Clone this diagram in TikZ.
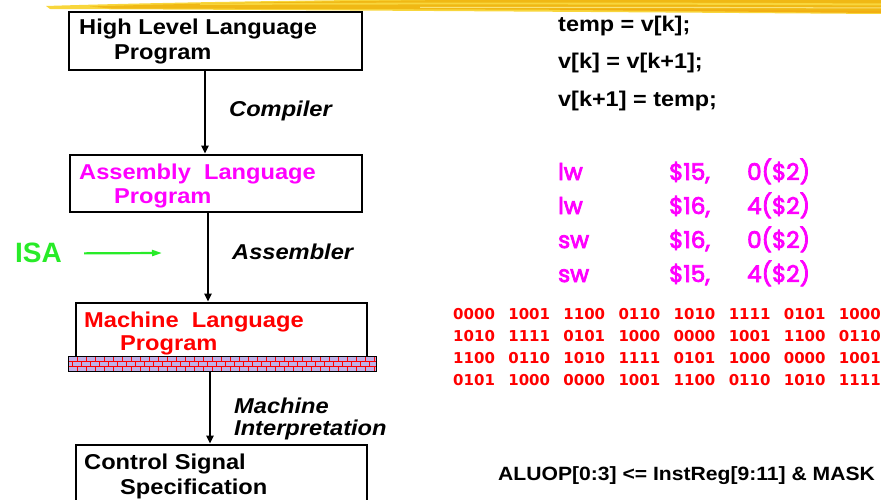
\documentclass[tikz,border=0pt]{standalone}
\usepackage{fontspec}
\setmainfont{Liberation Sans}
\newfontfamily\hv{Liberation Sans}[FakeStretch=1.1]
\newfontfamily\asmfont{Poppins}[FakeBold=3.5]
\newfontfamily\binfont{DejaVu Sans}
\usetikzlibrary{arrows.meta}
\definecolor{isagreen}{RGB}{40,235,40}
\definecolor{mag}{RGB}{255,0,255}
\definecolor{brick}{RGB}{192,176,232}
\definecolor{gold}{RGB}{240,184,20}
\definecolor{goldlight}{RGB}{248,214,60}
\newcommand\bingrp[1]{\makebox[55.1pt][l]{#1}}
\tikzset{
  box/.style={draw=black, line width=2.6pt, inner sep=0pt, fill=white},
  flow/.style={line width=2pt, -{Triangle[length=8pt,width=7pt]}},
  lbl/.style={anchor=base west, inner sep=0pt, font=\hv\bfseries\fontsize{21.5}{24}\selectfont},
  step lbl/.style={lbl, font=\hv\bfseries\itshape\fontsize{21.5}{24}\selectfont},
  code/.style={anchor=base west, inner sep=0pt, font=\hv\bfseries\fontsize{21.3}{24}\selectfont},
  asm/.style={anchor=base west, inner sep=0pt, text=mag, font=\asmfont\fontsize{23}{26}\selectfont},
  bin/.style={anchor=base west, inner sep=0pt, text=red, font=\binfont\bfseries\fontsize{15}{18}\selectfont},
}
\begin{document}
\begin{tikzpicture}[x=1pt, y=-1pt]
\useasboundingbox (0,0) rectangle (881,500);
\clip (0,0) rectangle (881,500);
% yellow brush stroke
\fill[goldlight] (46,6) .. controls (200,1) and (500,-3) .. (881,-2) -- (881,14) .. controls (600,12) and (300,10) .. (50,9) -- cycle;
\fill[gold] (90,6.5) .. controls (300,0) and (600,-2) .. (881,-1) -- (881,11.5) .. controls (650,10) and (400,9) .. (110,8.5) -- cycle;
\fill[goldlight] (200,3.5) .. controls (450,2) and (700,2.5) .. (881,3.5) -- (881,5.5) .. controls (700,4.5) and (450,4) .. (200,5) -- cycle;
\fill[goldlight!70!white] (420,7) .. controls (600,6.5) and (750,7) .. (881,7.5) -- (881,8.5) .. controls (750,8) and (600,7.8) .. (420,7.8) -- cycle;
\fill[gold!85!orange] (560,9) .. controls (700,9) and (800,10.5) .. (881,11) -- (881,13) .. controls (800,12.5) and (700,11) .. (560,10) -- cycle;

% boxes
\node[box, minimum width=293pt, minimum height=58pt] (hll) at (215.5,41) {};
\node[box, minimum width=292pt, minimum height=57pt] (asmb) at (216,183.5) {};
\node[box, minimum width=291pt, minimum height=62pt] (mach) at (221.5,334) {};
\node[box, minimum width=291pt, minimum height=70pt] (ctrl) at (221.5,480) {};
% wall
\node[draw=black, line width=1pt, fill=brick, minimum width=308pt, minimum height=15pt, inner sep=0pt] (wall) at (222,363.5) {};
\begin{scope}
\clip (wall.south west) rectangle (wall.north east);
\foreach \r in {0,1,2} {
  \draw[red, line width=0.7pt] (68,356+5*\r) -- (376,356+5*\r);
  \pgfmathsetmacro\off{mod(\r,2)*4.5}
  \foreach \c in {0,...,35} {
    \draw[red, line width=0.7pt] (68+\off+9*\c,356+5*\r) -- (68+\off+9*\c,361+5*\r);
  }
}
\end{scope}
\node[draw=black, line width=1pt, minimum width=308pt, minimum height=15pt, inner sep=0pt] at (wall) {};

% box texts
\node[lbl] (t1a) at (79,35) {High Level Language};
\node[lbl] (t1b) at (114,60) {Program};
\node[lbl, text=mag] (t2a) at (79,179) {Assembly\ \ Language};
\node[lbl, text=mag] (t2b) at (114,203) {Program};
\node[lbl, text=red] (t3a) at (84,327) {Machine\ \ Language};
\node[lbl, text=red] (t3b) at (120,350) {Program};
\node[lbl] (t4a) at (84,469) {Control Signal};
\node[lbl] (t4b) at (120,494) {Specification};

% flow arrows
\draw[flow] ([xshift=-10.5pt]hll.south) -- ([xshift=-11pt]asmb.north);
\draw[flow] ([xshift=-8pt]asmb.south) -- ([xshift=-13.5pt]mach.north);
\draw[flow] ([xshift=-12pt]wall.south) -- ([xshift=-11.5pt]ctrl.north);

\node[step lbl] (comp) at (229,117) {Compiler};
\node[step lbl] (assm) at (232,259) {Assembler};
\node[step lbl] (mi1) at (234,413) {Machine};
\node[step lbl] (mi2) at (234,435) {Interpretation};

% ISA
\node[anchor=base west, inner sep=0pt, text=isagreen, font=\bfseries\fontsize{28}{30}\selectfont] (isa) at (15,262) {ISA};
\coordinate (isaend) at (162,253);
\draw[isagreen, line width=2.2pt, -{Triangle[length=10pt,width=6pt]}] ([xshift=22pt, yshift=-1pt]isa.east) -- (isaend);

% code
\node[code] (c1) at (558,32) {temp = v[k];};
\node[code] (c2) at (558,69) {v[k] = v[k+1];};
\node[code] (c3) at (558,107) {v[k+1] = temp;};

% assembly
\node[asm] (a1) at (558,180) {\makebox[111pt][l]{lw}\makebox[78pt][l]{\$15,}0(\$2)};
\node[asm] (a2) at (558,214) {\makebox[111pt][l]{lw}\makebox[78pt][l]{\$16,}4(\$2)};
\node[asm] (a3) at (558,248) {\makebox[111pt][l]{sw}\makebox[78pt][l]{\$16,}0(\$2)};
\node[asm] (a4) at (558,282) {\makebox[111pt][l]{sw}\makebox[78pt][l]{\$15,}4(\$2)};

% binary
\node[bin] (b1) at (453,319) {\bingrp{0000}\bingrp{1001}\bingrp{1100}\bingrp{0110}\bingrp{1010}\bingrp{1111}\bingrp{0101}\bingrp{1000}};
\node[bin] (b2) at (453,341) {\bingrp{1010}\bingrp{1111}\bingrp{0101}\bingrp{1000}\bingrp{0000}\bingrp{1001}\bingrp{1100}\bingrp{0110}};
\node[bin] (b3) at (453,363) {\bingrp{1100}\bingrp{0110}\bingrp{1010}\bingrp{1111}\bingrp{0101}\bingrp{1000}\bingrp{0000}\bingrp{1001}};
\node[bin] (b4) at (453,385) {\bingrp{0101}\bingrp{1000}\bingrp{0000}\bingrp{1001}\bingrp{1100}\bingrp{0110}\bingrp{1010}\bingrp{1111}};

% control
\node[anchor=base west, inner sep=0pt, font=\hv\bfseries\fontsize{19.2}{22}\selectfont] (alu) at (498,480) {ALUOP[0:3] <= InstReg[9:11] \& MASK};
\end{tikzpicture}
\end{document}
